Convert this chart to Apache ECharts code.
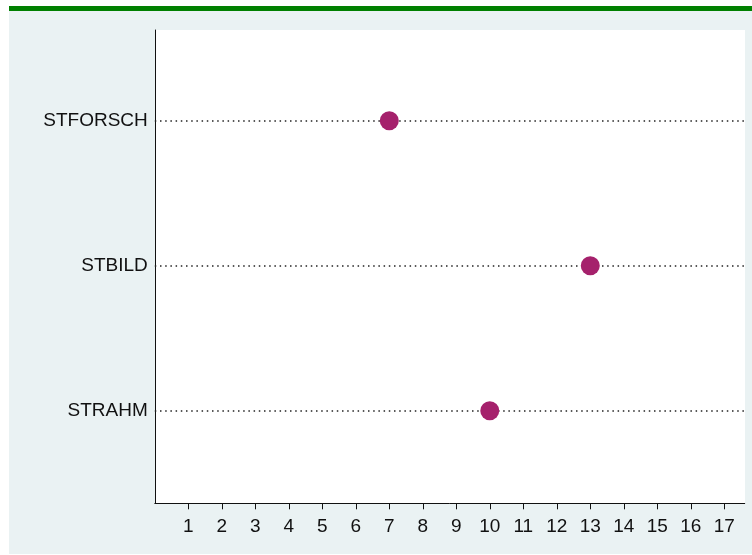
<!DOCTYPE html>
<html>
<head>
<meta charset="utf-8">
<style>
html,body{margin:0;padding:0;background:#ffffff;}
#chart{width:752px;height:555px;}
</style>
<script src="https://cdn.jsdelivr.net/npm/echarts@6/dist/echarts.min.js"></script>
</head>
<body>
<div id="chart"></div>
<script>
// Data
const categories = ['STRAHM', 'STBILD', 'STFORSCH']; // bottom to top
const values = [10, 13, 7];
const xTicks = [1,2,3,4,5,6,7,8,9,10,11,12,13,14,15,16,17];

const chart = echarts.init(document.getElementById('chart'), null, {renderer: 'canvas'});
const points = categories.map((c, i) => [values[i], i + 1]);
const catPositions = categories.map((c, i) => i + 1);

const option = {
  animation: false,
  backgroundColor: '#ffffff',
  graphic: [
    {type: 'rect', shape: {x: 9, y: 11, width: 743, height: 543}, style: {fill: '#eaf2f3'}, z: -10, silent: true},
    {type: 'rect', shape: {x: 9, y: 6, width: 743, height: 5}, style: {fill: '#008000'}, z: -10, silent: true},
    {type: 'rect', shape: {x: 155, y: 30, width: 590, height: 473}, style: {fill: '#ffffff'}, z: -9, silent: true}
  ],
  grid: {left: 154.8, right: 7.3, top: 30, bottom: 51.7, containLabel: false},
  xAxis: {
    type: 'value', min: 0, max: 17.61,
    axisLine: {show: true, lineStyle: {color: '#111111', width: 1}},
    axisTick: {show: true, customValues: xTicks, length: 6, lineStyle: {color: '#111111'}},
    axisLabel: {show: true, customValues: xTicks, fontFamily: 'Liberation Sans, Arial, sans-serif', fontSize: 19, color: '#111111', margin: 14},
    splitLine: {show: false}
  },
  yAxis: {
    type: 'value', min: 0.362, max: 3.626,
    axisLine: {show: true, onZero: false, lineStyle: {color: '#111111', width: 1}},
    axisTick: {show: false},
    axisLabel: {show: true, customValues: catPositions, formatter: v => categories[Math.round(v) - 1] || '',
      fontFamily: 'Liberation Sans, Arial, sans-serif', fontSize: 19, color: '#111111', margin: 7,
      padding: [3, 0, 0, 0]},
    splitLine: {show: false}
  },
  series: [{
    type: 'scatter',
    data: points,
    symbol: 'circle',
    symbolSize: 19,
    itemStyle: {color: '#a5216c', opacity: 1},
    z: 5,
    markLine: {
      silent: true, symbol: 'none', animation: false,
      label: {show: false},
      lineStyle: {color: '#222222', type: [1.5, 3.7], width: 1.5},
      data: catPositions.map(p => ({yAxis: p}))
    }
  }]
};
chart.setOption(option);
</script>
</body>
</html>
